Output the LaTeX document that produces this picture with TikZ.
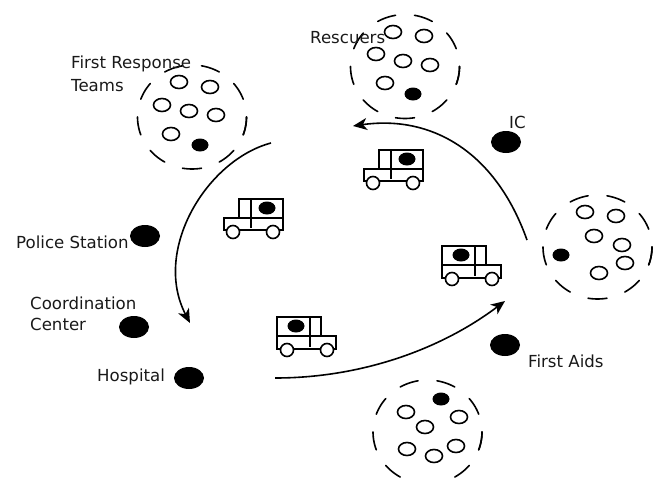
\documentclass[tikz,border=0pt]{standalone}
\usepackage{fontspec}
\setmainfont{DejaVu Sans}
\usetikzlibrary{shapes.geometric,arrows.meta}
\tikzset{
  member/.style={ellipse,draw=black,fill=white,line width=1.6pt,minimum width=17pt,minimum height=13pt,inner sep=0pt},
  leader/.style={ellipse,fill=black,minimum width=17pt,minimum height=13pt,inner sep=0pt},
  post/.style={ellipse,fill=black,minimum width=30pt,minimum height=22pt,inner sep=0pt},
  wheel/.style={circle,draw=black,fill=white,line width=1.6pt,minimum size=13pt,inner sep=0pt},
  label/.style={anchor=west,inner sep=0pt,font=\fontsize{16.6pt}{21pt}\selectfont,text=black!90},
  route/.style={line width=1.6pt,-{Stealth[length=14pt,width=12pt,inset=4pt]}},
  pics/crew/.style={code={
    \foreach \a in {10,50,...,370}
      \draw[line width=1.6pt,line cap=round,domain=\a-10:\a+10,samples=8,smooth]
        plot ({54.5*cos(\x)},{52*sin(\x)});
  }},
  pics/truckright/.style={code={
    \draw[line width=1.6pt] (15,0) rectangle (59,19) (0,19) rectangle (59,31) (27,0) -- (27,29);
    \node[wheel] (-wa) at (9,33) {};
    \node[wheel] (-wb) at (49,33) {};
    \node[leader] (-d) at (43,9) {};
  }},
  pics/truckleft/.style={code={
    \draw[line width=1.6pt] (0,0) rectangle (44,19) (0,19) rectangle (59,32) (33,0) -- (33,30);
    \node[wheel] (-wa) at (10,33) {};
    \node[wheel] (-wb) at (50,33) {};
    \node[leader] (-d) at (19,9) {};
  }}
}
\begin{document}
\begin{tikzpicture}[x=1pt,y=-1pt]
\useasboundingbox (0,0) rectangle (660,482);
% teams
\pic at (192,117) {crew};
\node[member] (f1) at (179,82) {};
\node[member] (f2) at (210,87) {};
\node[member] (f3) at (162,105) {};
\node[member] (f4) at (189,111) {};
\node[member] (f5) at (216,115) {};
\node[member] (f6) at (171,134) {};
\node[leader] (f7) at (200,145) {};
\pic at (405,66.5) {crew};
\node[member] (r1) at (393,32) {};
\node[member] (r2) at (424,36) {};
\node[member] (r3) at (376,54) {};
\node[member] (r4) at (403,61) {};
\node[member] (r5) at (430,65) {};
\node[member] (r6) at (385,83) {};
\node[leader] (r7) at (413,94) {};
\pic at (597.5,247) {crew};
\node[member] (a1) at (585,212) {};
\node[member] (a2) at (616,216) {};
\node[member] (a3) at (594,236) {};
\node[member] (a4) at (622,245) {};
\node[member] (a5) at (625,263) {};
\node[member] (a6) at (599,273) {};
\node[leader] (a7) at (561,255) {};
\begin{scope}
\clip (360,370) rectangle (495,478);
\pic at (427.5,432) {crew};
\end{scope}
\node[member] (b1) at (406,412) {};
\node[member] (b2) at (459,417) {};
\node[member] (b3) at (425,427) {};
\node[member] (b4) at (407,449) {};
\node[member] (b5) at (434,456) {};
\node[member] (b6) at (456,446) {};
\node[leader] (b7) at (441,399) {};
% trucks
\pic (t1) at (224,199) {truckright};
\pic (t2) at (364,150) {truckright};
\pic (t3) at (442,246) {truckleft};
\pic (t4) at (277,317) {truckleft};
% posts
\node[post] (police) at (145,236) {};
\node[post] (coord) at (134,327) {};
\node[post] (hospital) at (189,378) {};
\node[post] (aids) at (505,345) {};
\node[post] (ic) at (506,142) {};
% routes
\coordinate (s1) at (271,143);
\coordinate (e1) at (190,323);
\coordinate (s2) at (275,378);
\coordinate (e2) at (505,301);
\coordinate (s3) at (527,240);
\coordinate (e3) at (353,126);
\draw[route] (s1) .. controls (207,160) and (152,250) .. (e1);
\draw[route] (s2) .. controls (360,378) and (440,350) .. (e2);
\draw[route] (s3) .. controls (495,150) and (430,115) .. (e3);
% labels
\node[label] (lf) at (71,64) {First Response};
\node[label] (lt) at (71,86) {Teams};
\node[label] (lr) at (310,38) {Rescuers};
\node[label] (li) at (509,122) {IC};
\node[label] (lp) at (16,242) {Police Station};
\node[label] (lc) at (30,303) {Coordination};
\node[label] (lc2) at (30,324) {Center};
\node[label] (lh) at (97,377) {Hospital};
\node[label] (la) at (528,361) {First Aids};
\end{tikzpicture}
\end{document}
